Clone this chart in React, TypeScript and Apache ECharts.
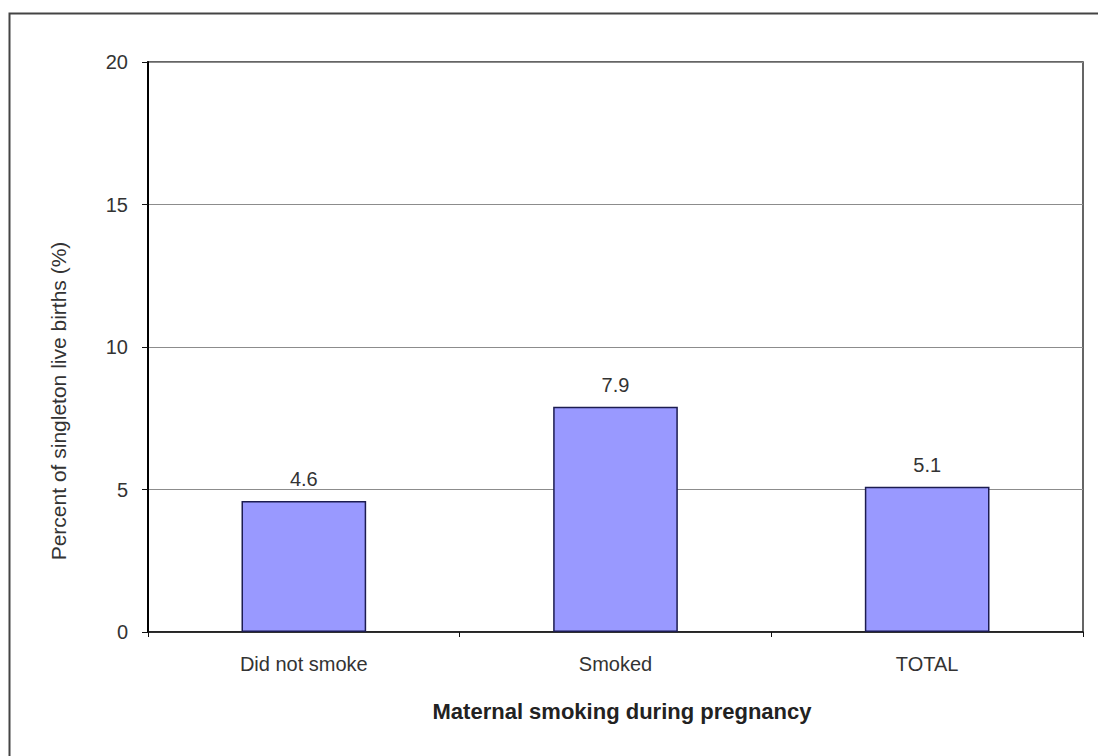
import React, { useEffect, useRef } from "react";
import * as echarts from "echarts";

const categories = ["Did not smoke", "Smoked", "TOTAL"];
const percentValues = [4.6, 7.9, 5.1];
const yAxisTitle = "Percent of singleton live births (%)";
const xAxisTitle = "Maternal smoking during pregnancy";

const FONT = "'Liberation Sans', Arial, sans-serif";

export default function App() {
  const ref = useRef<HTMLDivElement>(null);
  useEffect(() => {
    if (!ref.current) return;
    const chart = echarts.init(ref.current, null, { renderer: "svg" });
    chart.setOption({
      animation: false,
      backgroundColor: "#ffffff",
      textStyle: { fontFamily: FONT },
      grid: {
        left: 148,
        top: 62,
        width: 935,
        height: 570,
        show: true,
        borderColor: "#333333",
        borderWidth: 1.5,
        backgroundColor: "transparent",
      },
      xAxis: {
        type: "category",
        data: categories,
        boundaryGap: true,
        axisLine: { show: true, lineStyle: { color: "#111111", width: 1.5 } },
        axisTick: { show: true, length: 5, lineStyle: { color: "#111111" } },
        axisLabel: { color: "#333333", fontSize: 20, margin: 22, fontFamily: FONT },
      },
      yAxis: {
        type: "value",
        min: 0,
        max: 20,
        interval: 5,
        axisLine: { show: true, lineStyle: { color: "#000000", width: 2 } },
        axisTick: { show: true, length: 6, lineStyle: { color: "#111111" } },
        axisLabel: { color: "#333333", fontSize: 20, margin: 20, fontFamily: FONT },
        splitLine: { show: true, lineStyle: { color: "#8c8c8c", width: 1 } },
      },
      series: [
        {
          type: "bar",
          data: percentValues,
          barWidth: "40%",
          itemStyle: { color: "#9999ff", borderColor: "#1c1c50", borderWidth: 1.5 },
          label: {
            show: true,
            position: "top",
            distance: 12,
            color: "#333333",
            fontSize: 20,
            fontFamily: FONT,
            formatter: (p: any) => p.value.toFixed(1),
          },
        },
      ],
      graphic: [
        {
          type: "rect",
          shape: { x: 9.5, y: 13.5, width: 1200, height: 800 },
          style: { fill: "none", stroke: "#444444", lineWidth: 2 },
          silent: true,
        },
        {
          type: "text",
          x: 622,
          y: 711,
          style: {
            text: xAxisTitle,
            font: `bold 22px ${FONT}`,
            fill: "#222222",
            textAlign: "center",
            textVerticalAlign: "middle",
          },
        },
        {
          type: "text",
          x: 58,
          y: 401,
          rotation: Math.PI / 2,
          style: {
            text: yAxisTitle,
            font: `21px ${FONT}`,
            fill: "#333333",
            textAlign: "center",
            textVerticalAlign: "middle",
          },
        },
      ],
    });
    return () => chart.dispose();
  }, []);
  return (
    <div
      ref={ref}
      style={{ position: "fixed", left: 0, top: 0, width: 1098, height: 756 }}
    />
  );
}
